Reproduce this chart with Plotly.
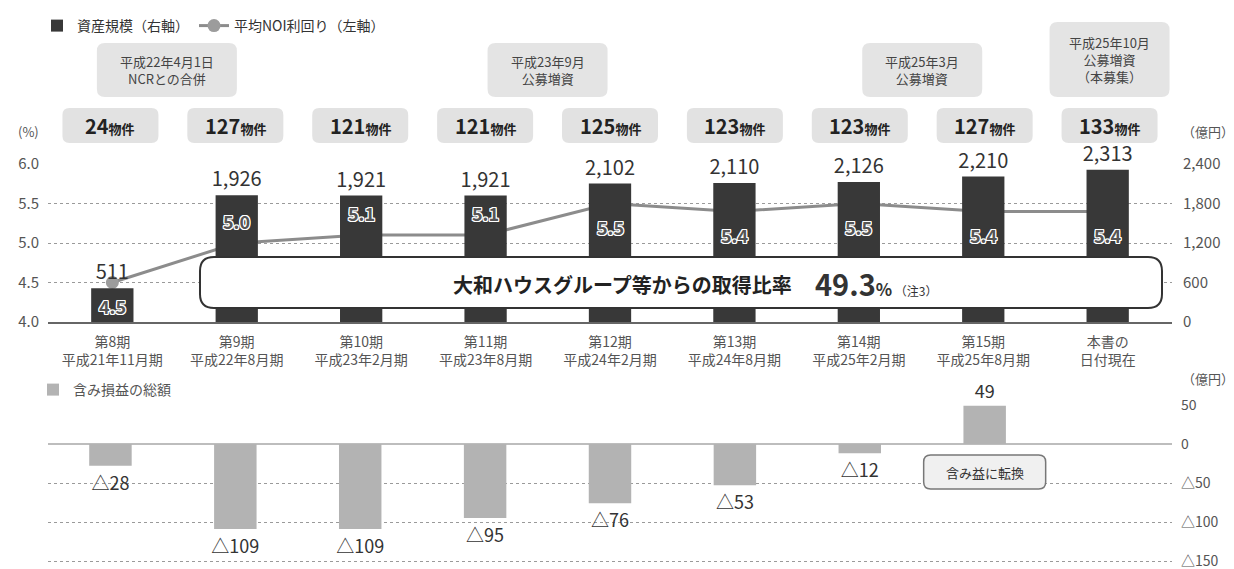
import plotly.graph_objects as go

# ---- data ----
period_names = ["第8期", "第9期", "第10期", "第11期", "第12期", "第13期", "第14期", "第15期", "本書の"]
period_dates = ["平成21年11月期", "平成22年8月期", "平成23年2月期", "平成23年8月期", "平成24年2月期",
                "平成24年8月期", "平成25年2月期", "平成25年8月期", "日付現在"]
asset_size = [511, 1926, 1921, 1921, 2102, 2110, 2126, 2210, 2313]          # 億円 (right axis)
noi_yield = [4.5, 5.0, 5.1, 5.1, 5.5, 5.4, 5.5, 5.4, 5.4]                   # % (left axis)
property_count = [24, 127, 121, 121, 125, 123, 123, 127, 133]
unrealized_gain = [-28, -109, -109, -95, -76, -53, -12, 49, None]           # 億円

event_slot = [0.5, 3.5, 6.5, 8]
event_text = ["平成22年4月1日<br>NCRとの合併", "平成23年9月<br>公募増資",
              "平成25年3月<br>公募増資", "平成25年10月<br>公募増資<br>（本募集）"]

group_ratio = 49.3

yield_ticks = [4.0, 4.5, 5.0, 5.5, 6.0]
asset_ticks = [0, 600, 1200, 1800, 2400]
gain_ticks = [-150, -100, -50, 0, 50]

# ---- page geometry (pixels) ----
W, H = 1234, 569
X0, X1 = 48, 1172
STEP = (X1 - X0) / len(period_names)
FONT = "Noto Sans CJK JP"


def px(x):
    return x / W


def py(y):
    return 1 - y / H


def cx(slot):
    return X0 + (slot + 0.5) * STEP


def rrect(x0, y0, x1, y1, r):
    pts = [("M", x0 + r, y0), ("L", x1 - r, y0), ("Q", x1, y0, x1, y0 + r), ("L", x1, y1 - r),
           ("Q", x1, y1, x1 - r, y1), ("L", x0 + r, y1), ("Q", x0, y1, x0, y1 - r),
           ("L", x0, y0 + r), ("Q", x0, y0, x0 + r, y0)]
    out = []
    for p in pts:
        cmd, vals = p[0], p[1:]
        coords = []
        for i in range(0, len(vals), 2):
            coords.append(f"{px(vals[i]):.5f},{py(vals[i + 1]):.5f}")
        out.append(cmd + " " + " ".join(coords))
    return " ".join(out) + " Z"


def note(x, y, text, size, color="#444444", anchor="center"):
    return dict(x=px(x), y=py(y), xref="paper", yref="paper", showarrow=False,
                xanchor=anchor, yanchor="middle", text=text,
                font=dict(size=size, color=color, family=FONT))


def fmt_gain(v):
    if v is None:
        return ""
    return f"△{-v}" if v < 0 else f"{v}"


tick_text = [f"{a}<br>{b}" for a, b in zip(period_names, period_dates)]

fig = go.Figure()

# asset size bars (right axis)
fig.add_trace(go.Bar(
    x=period_names, y=asset_size, yaxis="y2", xaxis="x",
    name="資産規模（右軸）", legend="legend",
    marker=dict(color="#383838", line=dict(width=0)), width=0.34,
    text=[f"{v:,}" for v in asset_size], textposition="outside",
    textfont=dict(size=20, color="#333333", family=FONT),
    constraintext="none", cliponaxis=False, hoverinfo="skip",
))

# average NOI yield line (left axis)
fig.add_trace(go.Scatter(
    x=period_names, y=noi_yield, yaxis="y", xaxis="x",
    name="平均NOI利回り（左軸）", legend="legend",
    mode="lines+markers",
    line=dict(color="#8c8c8c", width=3),
    marker=dict(size=13, color="#9c9c9c"),
    cliponaxis=False, hoverinfo="skip",
))

# unrealized gain / loss bars
fig.add_trace(go.Bar(
    x=period_names, y=unrealized_gain, yaxis="y3", xaxis="x2",
    name="含み損益の総額", legend="legend2",
    marker=dict(color="#b3b3b3", line=dict(width=0)), width=0.34,
    text=[fmt_gain(v) for v in unrealized_gain], textposition="outside",
    textfont=dict(size=18, color="#333333", family=FONT),
    constraintext="none", cliponaxis=False, hoverinfo="skip",
))

shapes = []
annotations = []

# yield value labels inside the bars (outlined text)
outline = ", ".join(f"{dx}px {dy}px 0 #ffffff" for dx in (-1, 0, 1) for dy in (-1, 0, 1) if dx or dy)
label_side = [-1, 1, 1, 1, -1, -1, -1, -1, -1]
for name, v, side in zip(period_names, noi_yield, label_side):
    annotations.append(dict(
        x=name, y=v, xref="x", yref="y", text=f"<b>{v:.1f}</b>", showarrow=False,
        xanchor="center", yanchor="middle",
        yshift=22 if side > 0 else -24,
        font=dict(size=18, color="#555555", family=FONT, shadow=outline),
    ))

# property count badges
for i, n in enumerate(property_count):
    c = cx(i)
    shapes.append(dict(type="path", xref="paper", yref="paper", path=rrect(c - 48, 108, c + 48, 143, 7),
                       fillcolor="#e2e2e2", line=dict(width=0), layer="below"))
    annotations.append(note(c, 126, f"<b>{n}</b><b><span style='font-size:13px'>物件</span></b>",
                            20, "#222222"))

# event call-outs
for slot, txt in zip(event_slot, event_text):
    c = cx(slot)
    lines = txt.count("<br>") + 1
    top = 97 - (21 * lines + 12)
    half = 70 if slot < 1 else 60
    if slot < 1:
        c -= 6
    shapes.append(dict(type="path", xref="paper", yref="paper", path=rrect(c - half, top, c + half, 97, 8),
                       fillcolor="#e4e4e4", line=dict(width=0), layer="below"))
    annotations.append(note(c, (top + 97) / 2, txt, 13, "#444444"))

# acquisition ratio banner
shapes.append(dict(type="path", xref="paper", yref="paper", path=rrect(200, 257, 1162, 308, 14),
                   fillcolor="#ffffff", line=dict(color="#333333", width=2), layer="above"))
annotations.append(note(622, 284, "<b>大和ハウスグループ等からの取得比率</b>", 20, "#222222"))
annotations.append(note(
    813, 283,
    f"<b>{group_ratio}</b><b><span style='font-size:17px'>%</span></b>"
    f"<span style='font-size:12px'> （注3）</span>",
    29, "#333333", anchor="left"))

# bottom panel: 39 px per 50 億円, zero line at y=444
ZERO_Y = 444
G_PER_PX = 50 / 39
g_lo, g_hi = -155, 50
g_top = ZERO_Y - g_hi / G_PER_PX
g_bot = ZERO_Y - g_lo / G_PER_PX

# unit labels
annotations.append(note(28, 131, "(%)", 13, "#555555"))
annotations.append(note(1180, 131, "（億円）", 13, "#555555", anchor="left"))
annotations.append(note(1180, ZERO_Y - 66, "（億円）", 13, "#555555", anchor="left"))

# turned-positive note under the last bar
c = cx(7)
shapes.append(dict(type="path", xref="paper", yref="paper",
                   path=rrect(c - 61, ZERO_Y + 11, c + 61, ZERO_Y + 45, 7),
                   fillcolor="#f0f0f0", line=dict(color="#777777", width=1.5), layer="above"))
annotations.append(note(c, ZERO_Y + 28, "含み益に転換", 13, "#333333"))

grid = dict(showgrid=True, gridcolor="#9a9a9a", gridwidth=1, griddash="dot")

fig.update_layout(
    width=W, height=H, margin=dict(l=0, r=0, t=0, b=0, autoexpand=False),
    paper_bgcolor="white", plot_bgcolor="white",
    font=dict(family=FONT, color="#444444"),
    barmode="group", showlegend=True,
    shapes=shapes, annotations=annotations,
    legend=dict(orientation="h", x=px(37), y=py(26), xanchor="left", yanchor="middle",
                font=dict(size=14, color="#333333"), bgcolor="rgba(0,0,0,0)", traceorder="normal"),
    legend2=dict(orientation="h", x=px(33), y=py(ZERO_Y - 54), xanchor="left", yanchor="middle",
                 font=dict(size=14, color="#555555"), bgcolor="rgba(0,0,0,0)"),
    xaxis=dict(domain=[px(X0), px(X1)], anchor="y", type="category", automargin=False,
               tickvals=period_names, ticktext=tick_text, showgrid=False,
               showline=True, linecolor="#666666", linewidth=1.5, ticks="",
               tickfont=dict(size=14, color="#555555"), ticklabelstandoff=6),
    yaxis=dict(domain=[py(322), py(164)], range=[4.0, 6.0], anchor="x", automargin=False,
               tickvals=yield_ticks, ticktext=[f"{v:.1f}" for v in yield_ticks],
               zeroline=False, showline=False, ticks="", ticklabelstandoff=8,
               tickfont=dict(size=15, color="#555555"), **grid),
    yaxis2=dict(overlaying="y", side="right", anchor="x", range=[0, 2400], automargin=False,
                tickvals=asset_ticks, ticktext=[f"{v:,}" for v in asset_ticks],
                showgrid=False, zeroline=False, showline=False, ticks="", ticklabelstandoff=10,
                tickfont=dict(size=15, color="#555555")),
    xaxis2=dict(domain=[px(X0), px(X1)], anchor="y3", type="category", automargin=False,
                categoryorder="array", categoryarray=period_names,
                showticklabels=False, showgrid=False, showline=False, ticks=""),
    yaxis3=dict(domain=[py(g_bot), py(g_top)], range=[g_lo, g_hi], anchor="x2", side="right",
                automargin=False, ticklabeloverflow="allow",
                tickvals=gain_ticks, ticktext=[fmt_gain(v) for v in gain_ticks],
                zeroline=True, zerolinecolor="#bdbdbd", zerolinewidth=2,
                showline=False, ticks="", ticklabelstandoff=8,
                tickfont=dict(size=14, color="#555555"), **grid),
)

fig.write_html("out.html")
